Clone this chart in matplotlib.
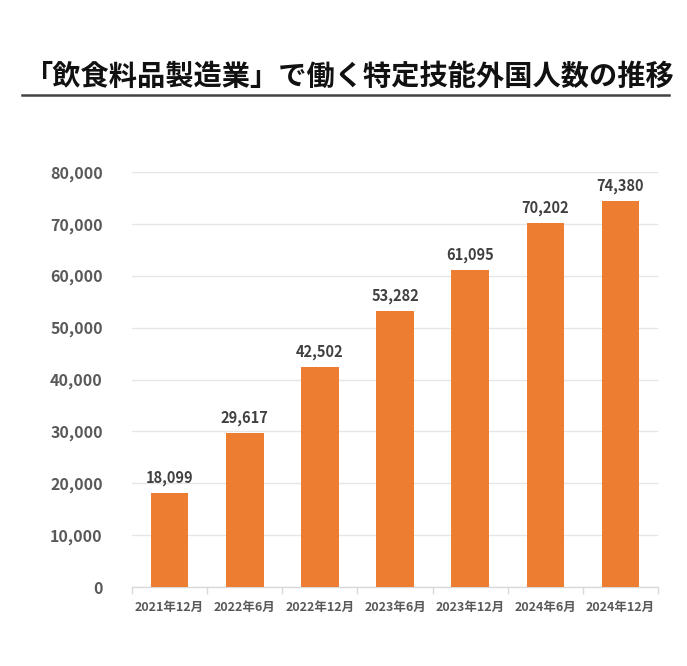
import matplotlib
matplotlib.use("Agg")
import matplotlib.pyplot as plt
from matplotlib.ticker import FuncFormatter, MultipleLocator, FixedLocator
import numpy as np

categories = ["2021年12月", "2022年6月", "2022年12月", "2023年6月", "2023年12月", "2024年6月", "2024年12月"]
values = [18099, 29617, 42502, 53282, 61095, 70202, 74380]
title = "「飲食料品製造業」で働く特定技能外国人数の推移"

plt.rcParams['font.family'] = ['Noto Sans CJK JP', 'DejaVu Sans']

fig = plt.figure(figsize=(6.87, 6.66), dpi=100)
ax = fig.add_axes([132/687, 1-587/666, 526/687, 415/666])

x = np.arange(len(categories))
bars = ax.bar(x, values, width=0.5, color="#ED7D31", zorder=3)

ax.set_xlim(-0.5, len(categories) - 0.5)
ax.set_ylim(0, 80000)
ax.yaxis.set_major_locator(MultipleLocator(10000))
ax.yaxis.set_major_formatter(FuncFormatter(lambda v, p: f"{int(v):,}"))
ax.grid(axis="y", color="#e6e6e6", linewidth=1, zorder=0)

for s in ["top", "right", "left"]:
    ax.spines[s].set_visible(False)
ax.spines["bottom"].set_color("#d9d9d9")
ax.spines["bottom"].set_linewidth(1)

ax.tick_params(axis="y", length=0, pad=21, labelsize=11.5, labelcolor="#595959")
for lab in ax.get_yticklabels():
    lab.set_fontweight("bold")

ax.set_xticks(x)
ax.set_xticklabels(categories, fontsize=9, color="#595959", fontweight="bold")
ax.tick_params(axis="x", which="major", length=0, pad=10)
ax.xaxis.set_minor_locator(FixedLocator(np.arange(-0.5, len(categories), 1.0)))
ax.tick_params(axis="x", which="minor", length=5, color="#d9d9d9", width=1)

for xi, v in zip(x, values):
    ax.annotate(f"{v:,}", (xi, v), xytext=(0, 5), textcoords="offset points",
                ha="center", va="bottom", fontsize=10.5, fontweight="bold", color="#404040")

fig.text(350/687, 1-77/666, title, ha="center", va="center", fontsize=20.3,
         fontweight="bold", color="#111111")
fig.add_artist(plt.Line2D([22/687, 669/687], [1-95/666, 1-95/666], color="#444444", linewidth=1.8))

fig.savefig("out.png", dpi=100, facecolor="white")
